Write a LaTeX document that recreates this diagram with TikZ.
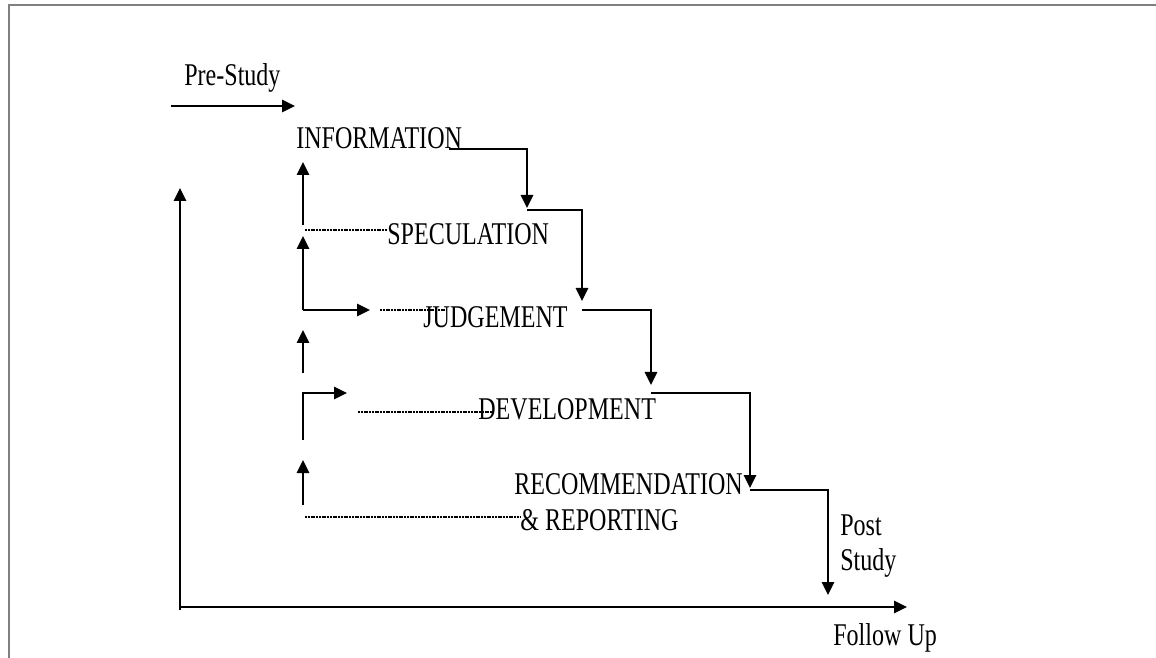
\documentclass[tikz,border=0pt]{standalone}
\usepackage{fontspec}
\setmainfont{Liberation Serif}[FakeStretch=0.76]
\usetikzlibrary{arrows.meta,calc}
\tikzset{
  lbl/.style={inner sep=0pt, anchor=base west, font=\fontsize{18}{21}\selectfont},
  flow/.style={line width=0.9pt, -{Triangle[length=2.6mm, width=2.5mm]}},
  fb/.style={line width=0.7pt, dash pattern=on 0.4mm off 0.15mm},
}
\begin{document}
\begin{tikzpicture}[x=0.2mm, y=-0.2mm]
        \useasboundingbox (0,0) rectangle (1156,658);
        \draw[gray, line width=0.6pt] (9,658) -- (9,5) -- (1156,5);

        \node[lbl] (pre) at (184,86) {Pre-Study};
        \node[lbl] (info) at (296,149) {INFORMATION};
        \node[lbl] (spec) at (387,245) {SPECULATION};
        \node[lbl] (judg) at (423,328) {JUDGEMENT};
        \node[lbl] (devl) at (478,420) {DEVELOPMENT};
        \node[lbl] (reco) at (514,494) {RECOMMENDATION};
        \node[lbl] (repo) at (520,530) {\& REPORTING};
        \node[lbl] (post) at (840,535) {Post};
        \node[lbl] (study) at (840,570) {Study};
        \node[lbl] (fup) at (833,645) {Follow Up};

        \coordinate (p0) at (171,106);
        \coordinate (p1) at (295,106);
        \coordinate (t1) at (527,208);
        \coordinate (s1) at (527,210);
        \coordinate (t2) at (582,301);
        \coordinate (s2) at (582,310);
        \coordinate (t3) at (651,385);
        \coordinate (s3) at (651,393);
        \coordinate (t4) at (750,488);
        \coordinate (s4) at (750,490);
        \coordinate (t5) at (828,595);

        \draw[flow] (p0) -- (p1);
        \draw[flow] ($(info.base east)+(-13,0)$) -| (t1);
        \draw[flow] (s1) -| (t2);
        \draw[flow] (s2) -| (t3);
        \draw[flow] (s3) -| (t4);
        \draw[flow] (s4) -| (t5);

        \coordinate (o) at (180,607);
        \draw[flow] (180,610) -- (180,188);
        \draw[flow] (o) -- (907,607);

        \coordinate (f1) at (303,225);
        \coordinate (f2) at (303,310);
        \coordinate (f3) at (303,373);
        \coordinate (f4) at (303,440);
        \coordinate (f5) at (303,505);
        \draw[flow] (f1) -- (303,162);
        \draw[flow] (f2) -- (303,236);
        \draw[flow] (f2) -- (370,310);
        \draw[flow] (f3) -- (303,330);
        \draw[flow] (f4) |- (347,393);
        \draw[flow] (f5) -- (303,460);

        \draw[fb] (305,230) -- (spec.west |- 0,230);
        \draw[fb] (380,310) -- (447,310);
        \draw[fb] (358,412) -- ($(devl.west |- 0,412)+(14,0)$);
        \draw[fb] (305,517) -- (repo.west |- 0,517);
\end{tikzpicture}
\end{document}
